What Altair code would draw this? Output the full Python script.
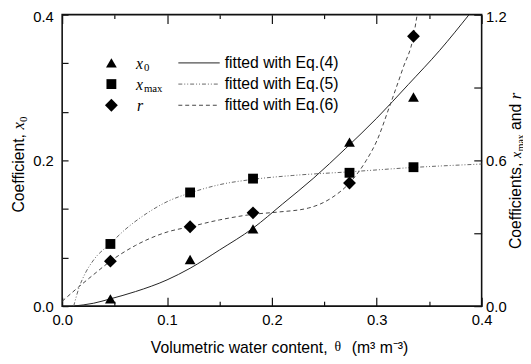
import altair as alt
import pandas as pd

# ---------------- data ----------------
theta_obs = [0.046, 0.122, 0.182, 0.274, 0.335]
x0_obs = [0.010, 0.064, 0.106, 0.225, 0.287]          # left axis
xmax_obs = [0.256, 0.468, 0.525, 0.549, 0.572]        # right axis
r_obs = [0.185, 0.327, 0.384, 0.507, 1.111]           # right axis

# fitted curves
fit4_theta = [0.010, 0.030, 0.046, 0.070, 0.100, 0.122, 0.150, 0.182, 0.210,
              0.240, 0.270, 0.300, 0.330, 0.360, 0.388]
fit4_x0 = [0.000, 0.004, 0.010, 0.020, 0.036, 0.052, 0.077, 0.107, 0.140,
           0.176, 0.216, 0.258, 0.304, 0.351, 0.400]

fit5_theta = [0.011, 0.016, 0.022, 0.030, 0.046, 0.060, 0.080, 0.100, 0.122,
              0.150, 0.182, 0.220, 0.274, 0.335, 0.400]
fit5_xmax = [0.000, 0.075, 0.135, 0.190, 0.258, 0.315, 0.380, 0.430, 0.466,
             0.500, 0.522, 0.538, 0.553, 0.571, 0.585]

fit6_theta = [0.000, 0.016, 0.030, 0.046, 0.070, 0.100, 0.122, 0.150, 0.182,
              0.205, 0.235, 0.257, 0.274, 0.290, 0.300, 0.312, 0.325, 0.335, 0.3385]
fit6_r = [0.020, 0.080, 0.130, 0.185, 0.250, 0.305, 0.327, 0.355, 0.378,
          0.387, 0.404, 0.446, 0.507, 0.600, 0.680, 0.820, 0.980, 1.111, 1.200]

x_major_ticks = [0.0, 0.1, 0.2, 0.3, 0.4]
x_minor_ticks = [0.05, 0.15, 0.25, 0.35]
y_left_ticks = [0.0, 0.0667, 0.1333, 0.2, 0.2667, 0.3333, 0.4]
y_left_labels = [0.0, 0.2, 0.4]
y_right_ticks = [0.0, 0.3, 0.6, 0.9, 1.2]
y_right_labels = [0.0, 0.6, 1.2]

legend_symbols = ["x", "x", "r"]
legend_subs = ["0", "max", ""]
legend_fits = ["fitted with Eq.(4)", "fitted with Eq.(5)", "fitted with Eq.(6)"]
x_title = ["Volumetric water content,", "\u03b8", "(m\u00b3 m\u207b\u00b3)"]
left_title = ["Coefficient,", "x", "0"]
right_title = ["Coefficients,", "x", "max", "and", "r"]

# ---------------- styling ----------------
W, H = 426, 296
FONT = "Liberation Sans"
SERIF = "Liberation Serif"
FS = 16
TFS = 15

xs = alt.Scale(domain=[0, 0.4], nice=False, zero=False)
yl = alt.Scale(domain=[0, 0.4], nice=False, zero=False)
yr = alt.Scale(domain=[0, 1.2], nice=False, zero=False)


def lbl_expr(vals):
    arr = "[" + ",".join(str(v) for v in vals) + "]"
    return f"indexof({arr}, datum.value) >= 0 ? format(datum.value, '.1f') : ''"


common = dict(domain=False, grid=False, title=None, tickColor="#111", tickWidth=1.2,
              labelFont=FONT, labelFontSize=TFS, labelColor="black", labelFlush=False,
              labelOverlap=False)

ax_bottom_major = alt.Axis(orient="bottom", values=x_major_ticks, tickSize=9, offset=-9,
                           format=".1f", labelPadding=7, **common)
ax_bottom_minor = alt.Axis(orient="bottom", values=x_minor_ticks, tickSize=5, offset=-5,
                           labels=False, **common)
ax_top_major = alt.Axis(orient="top", values=x_major_ticks, tickSize=9, offset=-9,
                        labels=False, **common)
ax_top_minor = alt.Axis(orient="top", values=x_minor_ticks, tickSize=4, offset=-4,
                        labels=False, **common)
ax_left = alt.Axis(orient="left", values=y_left_ticks, tickSize=6, offset=-6,
                   labelExpr=lbl_expr(y_left_labels), labelPadding=9,
                   labelOffset={"condition": {"test": "datum.value > 0.39", "value": 1.5}, "value": 0},
                   **common)
ax_right = alt.Axis(orient="right", values=y_right_ticks, tickSize=8, offset=-8,
                    labelExpr=lbl_expr(y_right_labels), labelPadding=4,
                    labelOffset={"condition": {"test": "datum.value > 1.19", "value": 1.5}, "value": 0},
                    **common)

obs = pd.DataFrame({"theta": theta_obs, "x0": x0_obs, "xmax": xmax_obs, "r": r_obs})
fit4 = pd.DataFrame({"theta": fit4_theta, "v": fit4_x0})
fit5 = pd.DataFrame({"theta": fit5_theta, "v": fit5_xmax})
fit6 = pd.DataFrame({"theta": fit6_theta, "v": fit6_r})
dummy = pd.DataFrame({"k": [0]})

DOT = [4, 2, 1, 2, 1, 2]

L_fit4 = alt.Chart(fit4).mark_line(color="#222", strokeWidth=1, interpolate="monotone", clip=True).encode(
    x=alt.X("theta:Q", scale=xs, axis=ax_bottom_major),
    y=alt.Y("v:Q", scale=yl, axis=ax_left))
L_tri = alt.Chart(obs).mark_point(shape="triangle-up", filled=True, size=120, color="black", opacity=1).encode(
    x=alt.X("theta:Q", scale=xs, axis=ax_bottom_minor),
    y=alt.Y("x0:Q", scale=yl, axis=None))
L_fit5 = alt.Chart(fit5).mark_line(color="#666", strokeWidth=1, strokeDash=DOT,
                                   interpolate="monotone", clip=True).encode(
    x=alt.X("theta:Q", scale=xs, axis=ax_top_major),
    y=alt.Y("v:Q", scale=yr, axis=ax_right))
L_sq = alt.Chart(obs).mark_point(shape="square", filled=True, size=100, color="black", opacity=1).encode(
    x=alt.X("theta:Q", scale=xs, axis=ax_top_minor),
    y=alt.Y("xmax:Q", scale=yr, axis=None))
L_fit6 = alt.Chart(fit6).mark_line(color="#444", strokeWidth=1, strokeDash=[4, 3],
                                   interpolate="monotone", clip=True).encode(
    x=alt.X("theta:Q", scale=xs, axis=None),
    y=alt.Y("v:Q", scale=yr, axis=None))
L_dia = alt.Chart(obs).mark_point(shape="diamond", filled=True, size=170, color="black", opacity=1).encode(
    x=alt.X("theta:Q", scale=xs, axis=None),
    y=alt.Y("r:Q", scale=yr, axis=None))


def txt(t, x, y, font=FONT, size=FS, style="normal", angle=0, align="left", baseline="middle"):
    return alt.Chart(dummy).mark_text(text=t, font=font, fontSize=size, fontStyle=style, angle=angle,
                                      align=align, baseline=baseline, color="black").encode(
        x=alt.value(x), y=alt.value(y))


def sym(shape, size, x, y):
    return alt.Chart(dummy).mark_point(shape=shape, filled=True, size=size, color="black", opacity=1).encode(
        x=alt.value(x), y=alt.value(y))


def seg(y, color, dash=None):
    kw = dict(color=color, strokeWidth=1)
    if dash:
        kw["strokeDash"] = dash
    return alt.Chart(dummy).mark_rule(**kw).encode(x=alt.value(118), x2=alt.value(160), y=alt.value(y))


legend_rows = [49, 70.5, 92]
legend = [
    sym("triangle-up", 120, 50, legend_rows[0]),
    sym("square", 100, 50, legend_rows[1]),
    sym("diamond", 170, 50, legend_rows[2]),
    txt(legend_symbols[0], 75, legend_rows[0] + 1, font=SERIF, size=16, style="italic"),
    txt(legend_subs[0], 83, legend_rows[0] + 5, font=SERIF, size=11),
    txt(legend_symbols[1], 75, legend_rows[1] + 1, font=SERIF, size=16, style="italic"),
    txt(legend_subs[1], 83, legend_rows[1] + 5, font=SERIF, size=11),
    txt(legend_symbols[2], 76, legend_rows[2] + 1, font=SERIF, size=16, style="italic"),
    seg(legend_rows[0], "#222"),
    seg(legend_rows[1], "#666", DOT),
    seg(legend_rows[2], "#444", [4, 3]),
    txt(legend_fits[0], 165, legend_rows[0]),
    txt(legend_fits[1], 165, legend_rows[1]),
    txt(legend_fits[2], 165, legend_rows[2]),
]

titles = [
    # x title: text + serif theta + units
    txt(x_title[0], 90, 339, align="left"),
    txt(x_title[1], 280, 338, font=SERIF, size=14, align="center"),
    txt(x_title[2], 294, 339, align="left"),
    # left title (rotated, reads upward)
    txt(left_title[0], -39, 201, angle=270, baseline="alphabetic"),
    txt(left_title[1], -39, 116.5, font=SERIF, size=17, style="italic", angle=270, baseline="alphabetic"),
    txt(left_title[2], -36, 109, font=SERIF, size=11, angle=270, baseline="alphabetic"),
    # right title
    txt(right_title[0], 466, 238, angle=270, baseline="alphabetic"),
    txt(right_title[1], 466, 145.6, font=SERIF, size=14, style="italic", angle=270, baseline="alphabetic"),
    txt(right_title[2], 469, 138.6, font=SERIF, size=10, angle=270, baseline="alphabetic"),
    txt(right_title[3], 466, 117.2, angle=270, baseline="alphabetic"),
    txt(right_title[4], 466, 86, font=SERIF, size=17, style="italic", angle=270, baseline="alphabetic"),
]

chart = alt.layer(L_fit4, L_tri, L_fit5, L_sq, L_fit6, L_dia, *legend, *titles).resolve_scale(
    y="independent").resolve_axis(x="independent", y="independent").properties(
    width=W, height=H,
    autosize=alt.AutoSizeParams(type="none"),
    padding={"left": 55, "top": 4, "right": 42, "bottom": 56},
).configure_view(stroke="#111", strokeWidth=1.6)

chart.save("out.html", embed_options={"renderer": "svg", "actions": False})
